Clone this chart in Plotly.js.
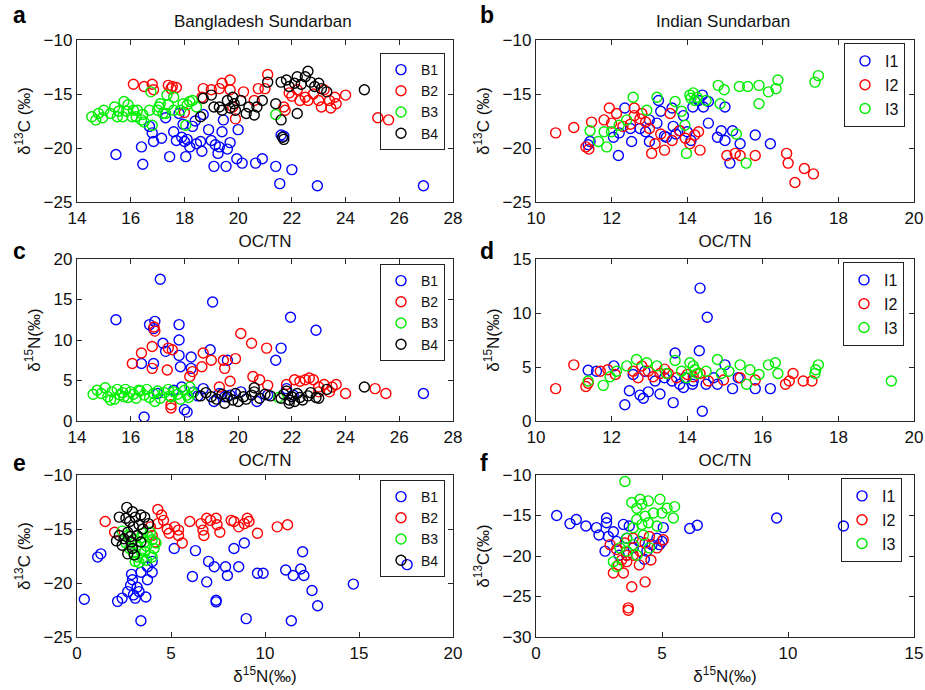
<!DOCTYPE html>
<html><head><meta charset="utf-8">
<script src="https://cdn.plot.ly/plotly-3.0.1.min.js"></script>
<style>html,body{margin:0;padding:0;background:#fff}</style>
</head><body><div id="chart" style="width:925px;height:690px"></div>
<script>
// ---------- Panel a: OC/TN vs d13C (Bangladesh) ----------
const aB1x = [15.45,16.4,16.45,16.7,16.8,16.85,17.15,17.45,17.6,17.7,17.8,17.9,18.0,18.05,18.1,18.2,18.3,18.45,18.6,18.65,18.7,18.9,19.0,19.1,19.15,19.25,19.3,19.45,19.4,19.55,19.6,19.95,20.0,20.15,20.65,20.9,21.4,21.6,21.7,21.55,22.0,22.95,26.9,17.3,18.4,19.7,17.95];
const aB1y = [-20.6,-19.9,-21.5,-18.0,-18.6,-19.4,-19.1,-20.8,-18.5,-19.3,-16.8,-19.0,-19.4,-20.8,-19.2,-19.9,-18.0,-19.6,-19.4,-20.3,-16.9,-18.3,-19.3,-21.7,-19.7,-20.5,-19.9,-17.4,-18.5,-21.7,-20.1,-21.0,-18.3,-21.4,-21.4,-21.0,-21.7,-18.8,-18.9,-23.3,-22.0,-23.5,-23.5,-17.2,-17.5,-19.5,-17.8];
const aB2x = [16.1,16.5,16.8,16.85,17.4,17.5,17.7,18.0,18.65,18.7,19.0,19.3,19.4,19.7,19.7,19.8,19.9,20.2,20.6,20.75,21.1,21.0,21.7,21.75,22.2,22.3,22.5,22.6,22.8,23.0,23.1,23.2,23.4,23.45,23.6,23.65,24.0,25.2,25.6,21.9,22.0,17.55];
const aB2y = [-14.1,-14.3,-14.1,-14.6,-14.2,-14.5,-14.4,-16.7,-15.3,-14.5,-14.6,-14.5,-14.0,-13.7,-14.6,-16.2,-17.3,-14.8,-15.6,-14.5,-13.2,-14.5,-16.2,-16.5,-14.6,-15.6,-15.3,-15.6,-15.0,-15.6,-16.2,-14.6,-15.6,-16.3,-15.3,-15.9,-15.1,-17.2,-17.4,-14.9,-15.2,-14.3];
const aB3x = [14.55,14.7,14.95,15.0,15.25,15.4,15.5,15.7,15.75,15.85,15.9,16.05,16.1,16.2,16.25,16.45,16.5,16.7,16.75,16.8,17.0,17.05,17.1,17.2,17.3,17.35,17.4,17.6,17.6,17.85,17.95,18.05,18.1,18.2,18.3,18.45,21.4,15.55,16.4,14.8];
const aB3y = [-17.1,-17.4,-17.2,-16.5,-16.8,-16.2,-17.1,-17.1,-15.7,-16.6,-16.0,-17.1,-16.5,-17.1,-16.5,-16.9,-17.6,-16.5,-14.8,-17.9,-16.5,-16.2,-15.9,-16.8,-16.8,-15.1,-16.0,-16.5,-15.3,-16.5,-15.9,-17.9,-16.0,-15.7,-15.6,-16.2,-16.9,-16.6,-17.4,-16.8];
const aB4x = [18.6,18.7,19.0,19.1,19.3,19.4,19.6,19.7,19.8,19.85,19.9,20.1,20.3,20.4,20.6,20.7,20.9,21.1,21.4,21.6,21.65,21.6,21.8,21.9,22.1,22.2,22.2,22.35,22.5,22.6,22.7,22.85,23.0,23.1,23.3,24.7,21.7];
const aB4y = [-17.1,-15.4,-15.1,-16.2,-16.2,-16.5,-15.6,-16.3,-15.3,-15.9,-16.5,-15.6,-16.8,-16.2,-16.95,-16.2,-15.6,-13.9,-15.9,-17.4,-19.0,-13.9,-13.7,-14.3,-14.0,-16.8,-13.4,-14.1,-13.4,-12.9,-13.9,-14.3,-14.0,-14.5,-14.8,-14.6,-19.2];

// ---------- Panel b: OC/TN vs d13C (India) ----------
const bI1x = [11.38,11.43,12.05,12.18,12.35,12.5,12.53,12.75,12.9,13.0,13.2,13.24,13.3,13.45,13.6,13.63,13.7,13.8,13.9,14.0,14.1,14.15,14.3,14.4,14.43,14.56,14.56,14.8,14.9,15.0,15.0,15.13,15.2,15.4,15.8,16.2,13.0,12.2,13.4];
const bI1y = [-19.7,-19.4,-19.0,-20.7,-16.3,-18.2,-19.4,-18.2,-18.5,-19.4,-17.7,-15.6,-16.6,-19.0,-16.3,-18.0,-18.7,-18.4,-17.0,-18.5,-19.3,-16.2,-15.6,-15.1,-16.2,-15.7,-17.7,-19.0,-18.4,-16.2,-19.3,-21.4,-18.4,-19.6,-18.8,-19.6,-17.4,-18.6,-18.9];
const bI2x = [10.52,11.0,11.32,11.47,11.8,11.94,12.0,12.13,12.3,12.6,12.6,12.75,12.9,13.0,13.06,13.15,13.3,13.4,13.55,13.6,13.8,13.95,14.07,14.2,14.3,14.34,15.05,15.27,15.4,15.8,16.63,16.67,16.85,17.1,17.34,12.5,12.8,11.4];
const bI2y = [-18.6,-18.1,-19.9,-17.6,-17.4,-16.3,-17.7,-16.8,-18.0,-16.3,-17.0,-17.3,-17.6,-18.2,-20.5,-19.6,-18.7,-20.2,-16.8,-19.3,-18.4,-19.1,-19.6,-18.8,-18.5,-20.2,-20.7,-20.5,-20.7,-20.7,-20.5,-21.4,-23.2,-21.9,-22.4,-17.8,-16.8,-20.1];
const bI3x = [11.43,11.65,11.87,12.0,12.2,12.57,12.93,13.2,13.68,13.85,13.94,13.98,14.07,14.1,14.16,14.2,14.26,14.5,14.82,14.98,15.38,15.6,15.9,15.9,16.15,16.35,16.4,17.38,17.47,15.3,15.56,14.87,12.4,11.8];
const bI3y = [-18.4,-19.4,-19.9,-18.5,-17.9,-15.3,-16.5,-15.3,-15.7,-16.6,-17.9,-20.5,-15.1,-15.4,-14.9,-15.6,-15.3,-15.6,-14.2,-14.6,-14.3,-14.3,-14.2,-15.9,-14.8,-14.5,-13.7,-13.9,-13.3,-18.7,-21.4,-15.9,-17.4,-18.5];

// ---------- Panel c: OC/TN vs d15N (Bangladesh) ----------
const cB1x = [17.1,15.45,16.7,16.9,16.85,16.85,16.4,16.5,17.2,17.3,17.8,17.8,17.8,17.85,18.25,18.25,18.0,18.1,18.96,19.05,19.6,21.6,21.4,21.95,22.9,26.9,17.0,17.6,17.9,18.35,18.7,19.1,19.3,19.7,20.1,20.7,21.1,21.8,22.05,18.5,19.5];
const cB1y = [17.5,12.5,11.9,12.3,11.4,7.1,7.1,0.5,9.6,8.6,11.9,10.0,8.1,6.7,7.9,6.5,1.4,1.1,8.8,14.7,7.5,9.0,7.5,12.8,11.2,3.4,3.4,3.8,4.2,3.6,4.0,2.4,3.4,3.2,3.6,2.4,3.2,4.0,3.2,3.1,3.0];
const cB2x = [16.06,16.4,16.8,16.8,16.9,16.87,17.36,17.4,17.55,17.5,17.5,18.2,18.3,18.65,18.7,19.0,19.45,19.5,19.9,20.1,20.5,21.06,20.55,20.8,21.1,19.7,19.3,21.8,22.1,22.3,22.5,22.65,22.8,23.0,23.2,23.5,23.65,24.0,25.1,25.5,23.4,23.0];
const cB2y = [7.1,8.4,9.2,6.5,11.1,11.6,6.3,9.0,8.8,2.0,1.6,5.5,6.1,6.7,8.4,7.5,7.5,6.5,7.7,10.8,9.6,9.0,5.5,5.1,4.4,4.9,4.2,4.5,5.1,4.9,5.1,5.3,5.1,4.2,4.5,4.2,4.5,3.4,4.0,3.4,3.6,3.6];
const cB3x = [14.6,14.75,14.9,15.05,15.15,15.3,15.4,15.5,15.6,15.7,15.8,15.9,16.0,16.1,16.2,16.35,16.5,16.6,16.7,16.85,17.0,17.1,17.25,17.4,17.5,17.6,17.75,17.85,18.0,18.1,18.2,18.3,15.25,15.75,16.3,16.9,17.45,18.15,21.5];
const cB3y = [3.3,3.8,3.4,4.1,3.0,3.6,2.7,3.9,3.2,3.5,3.9,2.9,3.6,3.3,2.8,3.7,3.2,3.9,2.9,3.4,3.7,2.8,3.5,3.9,3.0,3.6,3.3,2.7,3.8,3.2,4.2,3.5,2.6,3.0,3.8,2.4,3.1,2.9,2.9];
const cB4x = [18.6,18.8,19.0,19.2,19.4,19.5,19.6,19.8,19.9,20.0,20.2,20.3,20.5,20.6,20.8,21.0,21.2,21.6,21.7,21.8,21.9,22.0,22.1,22.2,22.3,22.4,22.6,22.7,22.9,23.0,23.3,24.7,20.6,21.9];
const cB4y = [3.1,3.5,3.0,2.7,3.3,2.2,3.0,2.6,3.4,2.4,3.0,2.7,3.2,4.1,2.8,3.3,3.1,2.8,3.3,3.7,2.6,3.0,2.4,3.4,2.9,2.6,3.1,3.5,2.9,2.8,3.9,4.2,3.6,2.2];

// ---------- Panel d: OC/TN vs d15N (India) ----------
const dI1x = [14.34,14.53,13.68,14.32,11.38,11.6,12.06,12.35,12.47,12.75,12.84,12.97,13.28,13.63,13.9,14.14,14.4,14.5,14.8,15.0,15.2,15.35,15.8,16.2,14.7,12.57,12.88,13.15,13.4,13.6,13.8,13.94,14.16];
const dI1y = [12.3,9.6,6.3,6.5,4.7,4.6,5.1,1.5,2.8,2.4,2.1,2.7,2.5,1.7,3.1,3.4,0.9,3.4,3.4,5.2,3.0,4.0,3.0,3.0,4.0,4.3,4.6,3.7,4.0,3.7,3.4,4.0,3.7];
const dI2x = [10.52,11.0,11.32,11.38,11.7,11.9,12.1,12.57,12.8,12.97,13.1,13.28,13.5,13.72,14.0,14.16,14.34,14.56,14.96,15.4,15.8,16.6,16.7,16.8,17.07,17.3,12.7,13.4];
const dI2y = [3.0,5.2,3.2,3.5,4.6,4.75,4.3,4.6,5.1,4.6,4.1,4.4,4.4,4.0,4.3,4.1,4.4,3.7,3.8,4.0,3.8,3.4,3.7,4.4,3.7,3.7,4.0,4.8];
const dI3x = [11.38,11.78,11.96,12.13,12.4,12.66,12.93,13.2,13.45,13.68,13.85,13.98,14.07,14.16,14.2,14.27,14.5,14.8,14.9,15.1,15.4,15.57,15.66,15.9,16.15,16.33,16.4,17.38,17.47,17.4,19.4];
const dI3y = [3.7,3.3,4.1,4.6,5.1,5.7,5.4,5.1,4.4,5.6,4.6,4.0,5.4,5.1,4.75,4.4,4.6,5.7,4.4,4.6,5.2,3.4,4.75,4.3,5.2,5.4,4.4,4.4,5.2,4.75,3.7];

// ---------- Panel e: d15N vs d13C (Bangladesh) ----------
const eB1x = [0.39,1.1,1.27,2.16,2.4,2.7,2.85,2.95,3.0,3.2,3.4,3.75,3.75,4.0,4.0,3.1,3.4,3.66,5.17,6.14,6.3,6.9,7.0,7.3,7.4,7.4,7.9,8.0,8.35,8.6,8.9,9.0,9.6,9.9,11.1,11.4,11.5,11.9,12.0,12.07,12.5,12.8,14.7,17.56,3.3,2.9];
const eB1y = [-21.5,-17.6,-17.3,-21.7,-21.4,-20.8,-20.2,-19.7,-21.1,-20.4,-19.0,-19.7,-18.5,-18.0,-19.0,-21.4,-23.5,-21.3,-16.8,-19.4,-17.0,-19.9,-18.0,-18.5,-21.6,-21.75,-18.5,-19.3,-16.8,-18.5,-16.3,-23.3,-19.1,-19.1,-18.8,-23.5,-19.3,-18.7,-17.1,-19.3,-20.7,-22.1,-20.1,-18.3,-20.8,-19.2];
const eB2x = [1.5,2.0,4.3,4.5,4.6,4.3,4.8,4.9,5.2,5.4,5.4,5.6,6.0,6.6,6.7,6.75,6.9,7.1,7.4,7.45,7.6,8.2,8.35,8.6,8.9,9.06,9.15,9.6,10.65,11.2,3.9,4.0,4.15];
const eB2y = [-14.3,-15.3,-13.2,-13.7,-14.2,-14.5,-15.0,-15.4,-14.8,-15.1,-15.6,-16.3,-14.3,-14.5,-15.1,-15.6,-14.0,-14.2,-14.0,-14.6,-15.3,-14.2,-14.3,-14.8,-14.5,-14.0,-14.3,-15.4,-14.8,-14.6,-14.8,-15.6,-16.2];
const eB3x = [2.4,2.7,3.0,3.2,3.4,3.5,3.3,3.6,3.8,4.0,4.1,3.9,3.7,3.0,2.8,3.5,3.9,3.2,3.6,4.2,2.6,3.4,3.7,3.1,4.0];
const eB3y = [-15.2,-15.6,-16.0,-16.5,-17.0,-17.7,-18.1,-16.2,-15.7,-16.0,-16.8,-17.4,-17.9,-17.2,-16.8,-15.4,-15.3,-17.6,-17.1,-16.3,-16.3,-15.8,-16.6,-18.0,-17.6];
const eB4x = [2.65,2.25,2.1,2.95,3.1,3.4,3.6,2.8,3.0,2.7,2.5,2.9,2.95,2.7,3.2,3.4,3.05,2.4,2.25,3.3,2.6,3.5,3.8,2.85];
const eB4y = [-13.0,-13.9,-16.1,-13.4,-13.9,-13.7,-13.9,-14.3,-14.8,-15.3,-15.9,-16.2,-16.8,-17.3,-15.6,-16.2,-17.4,-16.5,-15.6,-14.6,-14.0,-15.0,-14.5,-15.7];

// ---------- Panel f: d15N vs d13C (India) ----------
const fI1x = [0.82,1.35,1.6,1.98,2.4,2.5,2.8,2.8,2.87,2.74,3.07,3.2,3.47,3.6,3.7,3.86,4.1,4.4,4.6,4.8,4.9,5.05,5.0,6.1,6.4,9.55,12.2,3.6,3.3,4.3];
const fI1y = [-15.0,-16.0,-15.5,-16.3,-16.5,-17.4,-15.3,-15.9,-17.6,-19.4,-17.0,-18.2,-16.1,-17.8,-16.3,-19.0,-18.2,-19.4,-18.6,-17.8,-18.6,-16.5,-18.2,-16.6,-16.2,-15.3,-16.3,-19.9,-19.9,-20.4];
const fI2x = [3.66,3.66,3.8,4.33,3.47,3.07,3.27,3.6,4.1,4.56,2.94,3.2,3.53,3.86,4.13,4.33,4.5,4.8,5.05,3.86,3.6,3.4];
const fI2y = [-26.7,-26.4,-23.8,-23.2,-22.1,-22.1,-21.1,-20.7,-21.1,-20.5,-18.6,-19.2,-18.4,-17.8,-19.4,-18.4,-17.6,-19.0,-18.0,-19.9,-19.9,-20.5];
const fI3x = [3.53,3.8,4.0,4.13,4.2,4.46,4.92,5.2,5.5,5.45,4.33,4.66,5.0,4.0,4.2,4.46,4.8,3.86,3.6,3.33,3.07,3.2,3.86,4.26,4.0,4.5,3.6];
const fI3y = [-10.8,-13.4,-14.1,-13.0,-13.6,-13.2,-13.0,-14.1,-13.9,-15.3,-15.1,-14.7,-14.7,-15.5,-16.1,-15.9,-16.3,-16.5,-17.8,-19.0,-20.7,-21.3,-18.6,-17.4,-19.9,-19.0,-19.4];

const namesB = ['B1','B2','B3','B4'];
const namesI = ['I1','I2','I3'];
const colors = ['#0000ff','#ff0000','#00ee00','#000000'];
const panelLetters = ['a','b','c','d','e','f'];
const colTitles = ['Bangladesh Sundarban','Indian Sundarban'];

const FONT = 'Liberation Sans, Arial, sans-serif';

function tr(x, y, name, ci, n, leg) {
  return {
    type: 'scatter', mode: 'markers', x: x, y: y, name: name,
    xaxis: 'x' + (n === 1 ? '' : n), yaxis: 'y' + (n === 1 ? '' : n),
    legend: leg, legendgroup: leg + name,
    marker: {symbol: 'circle-open', size: 10, color: colors[ci], line: {width: 1.4, color: colors[ci]}},
    hoverinfo: 'x+y+name'
  };
}

const data = [];
[[aB1x,aB1y],[aB2x,aB2y],[aB3x,aB3y],[aB4x,aB4y]].forEach((s,i)=>data.push(tr(s[0],s[1],namesB[i],i,1,'legend')));
[[bI1x,bI1y],[bI2x,bI2y],[bI3x,bI3y]].forEach((s,i)=>data.push(tr(s[0],s[1],namesI[i],i,2,'legend2')));
[[cB1x,cB1y],[cB2x,cB2y],[cB3x,cB3y],[cB4x,cB4y]].forEach((s,i)=>data.push(tr(s[0],s[1],namesB[i],i,3,'legend3')));
[[dI1x,dI1y],[dI2x,dI2y],[dI3x,dI3y]].forEach((s,i)=>data.push(tr(s[0],s[1],namesI[i],i,4,'legend4')));
[[eB1x,eB1y],[eB2x,eB2y],[eB3x,eB3y],[eB4x,eB4y]].forEach((s,i)=>data.push(tr(s[0],s[1],namesB[i],i,5,'legend5')));
[[fI1x,fI1y],[fI2x,fI2y],[fI3x,fI3y]].forEach((s,i)=>data.push(tr(s[0],s[1],namesI[i],i,6,'legend6')));

// plot-area mapping helpers (margins l77 r11 t40 b53)
const PL = 77, PT = 40, PW = 837, PH = 597;
const px = v => (v - PL) / PW;
const py = v => (PT + PH - v) / PH;

function axis(range, dtick, domain, anchor, title) {
  return {
    range: range, dtick: dtick, tick0: 0, domain: domain, anchor: anchor,
    showline: true, mirror: 'ticks', linecolor: '#262626', linewidth: 1.2,
    ticks: 'inside', ticklen: 5, tickcolor: '#262626', tickwidth: 1,
    showgrid: false, zeroline: false,
    tickfont: {family: FONT, size: 17, color: '#111'},
    title: {text: title, font: {family: FONT, size: 17, color: '#111'}, standoff: 8}
  };
}
const xL = [px(77), px(453)], xR = [px(536), px(914)];
const yT = [py(202), py(40)], yM = [py(421), py(259)], yB = [py(637), py(475)];
const d13 = 'δ<sup>13</sup>C (‰)', d15 = 'δ<sup>15</sup>N(‰)';

function legend(xr, yt, fs) {
  return {x: px(xr), y: py(yt), xanchor: 'right', yanchor: 'top', xref: 'paper', yref: 'paper',
    bgcolor: 'rgba(255,255,255,0)', bordercolor: '#222', borderwidth: 1,
    font: {family: FONT, size: fs, color: '#111'}, itemwidth: 30, tracegroupgap: 0, traceorder: 'normal'};
}

const ann = [];
const letterPos = [[20,15],[487,15],[20,251],[487,251],[20,463],[484,463]];
panelLetters.forEach((l,i)=>ann.push({text: '<b>'+l+'</b>', x: px(letterPos[i][0]), y: py(letterPos[i][1]), xref:'paper', yref:'paper', showarrow:false, font:{family: FONT, size: 23, color:'#000'}, xanchor:'center', yanchor:'middle'}));
ann.push({text: colTitles[0], x: px(263), y: py(21), xref:'paper', yref:'paper', showarrow:false, xanchor:'center', yanchor:'middle', font:{family: FONT, size: 17, color:'#111'}});
ann.push({text: colTitles[1], x: px(723), y: py(21), xref:'paper', yref:'paper', showarrow:false, xanchor:'center', yanchor:'middle', font:{family: FONT, size: 17, color:'#111'}});

const layout = {
  width: 925, height: 690, paper_bgcolor: '#fff', plot_bgcolor: '#fff',
  margin: {l: PL, r: 11, t: PT, b: 53},
  showlegend: true,
  xaxis: axis([14,28], 2, xL, 'y', 'OC/TN'),
  yaxis: axis([-25,-10], 5, yT, 'x', d13),
  xaxis2: axis([10,20], 2, xR, 'y2', 'OC/TN'),
  yaxis2: axis([-25,-10], 5, yT, 'x2', d13),
  xaxis3: axis([14,28], 2, xL, 'y3', 'OC/TN'),
  yaxis3: axis([0,20], 5, yM, 'x3', d15),
  xaxis4: axis([10,20], 2, xR, 'y4', 'OC/TN'),
  yaxis4: axis([0,15], 5, yM, 'x4', d15),
  xaxis5: axis([0,20], 5, xL, 'y5', d15),
  yaxis5: axis([-25,-10], 5, yB, 'x5', d13),
  xaxis6: axis([0,15], 5, xR, 'y6', d15),
  yaxis6: axis([-30,-10], 5, yB, 'x6', 'δ<sup>13</sup>C(‰)'),
  legend: legend(445, 53, 14),
  legend2: legend(905, 43, 16),
  legend3: legend(445, 264, 14),
  legend4: legend(904, 262, 16),
  legend5: legend(445, 480, 14),
  legend6: legend(902, 478, 16),
  annotations: ann
};

Plotly.newPlot('chart', data, layout, {displayModeBar: false, staticPlot: true});
</script></body></html>
